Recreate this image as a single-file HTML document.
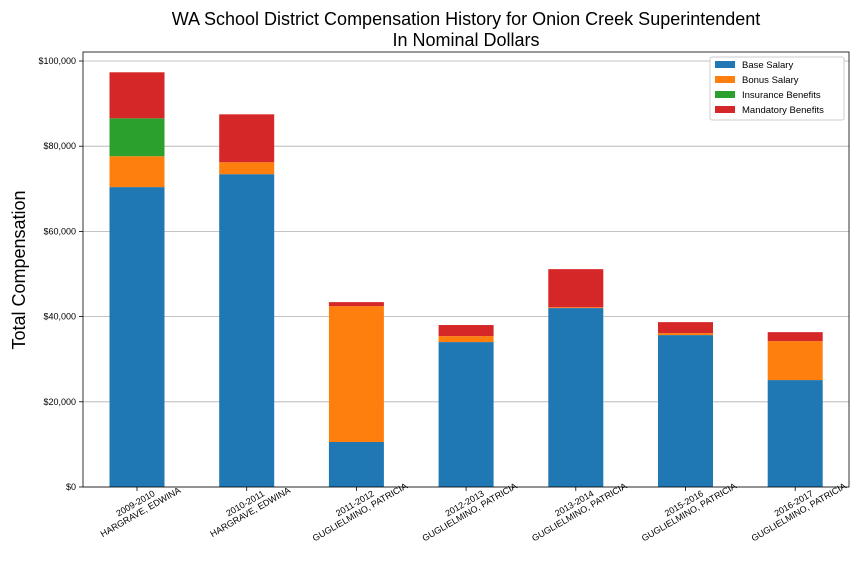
<!DOCTYPE html>
<html><head><meta charset="utf-8"><style>
body{margin:0;background:#fff;font-family:"Liberation Sans",sans-serif}
</style></head><body>
<svg id="chart" width="864" height="576" xmlns="http://www.w3.org/2000/svg"></svg>
<script>
const categories=[["2009-2010","HARGRAVE, EDWINA"],["2010-2011","HARGRAVE, EDWINA"],["2011-2012","GUGLIELMINO, PATRICIA"],["2012-2013","GUGLIELMINO, PATRICIA"],["2013-2014","GUGLIELMINO, PATRICIA"],["2015-2016","GUGLIELMINO, PATRICIA"],["2016-2017","GUGLIELMINO, PATRICIA"]];
const baseSalary=[70400,73430,10560,34020,42000,35660,25100];
const bonusSalary=[7250,2800,31900,1400,200,470,9150];
const insuranceBenefits=[8900,0,0,0,0,0,0];
const mandatoryBenefits=[10800,11250,940,2600,8940,2570,2100];
const yTicks=[0,20000,40000,60000,80000,100000];
const yTickLabels=["$0","$20,000","$40,000","$60,000","$80,000","$100,000"];
const seriesNames=["Base Salary","Bonus Salary","Insurance Benefits","Mandatory Benefits"];
const colors=["#1f77b4","#ff7f0e","#2ca02c","#d62728"];

const NS="http://www.w3.org/2000/svg";
const svg=document.getElementById('chart');
const L=83,R=849,T=52,B=487;
const y=v=>B-v*(B-61)/100000;
const x=i=>137+i*109.7;
const bw=55;
function el(tag,attrs,parent){const e=document.createElementNS(NS,tag);for(const k in attrs)e.setAttribute(k,attrs[k]);(parent||svg).appendChild(e);return e;}

yTicks.forEach((t,i)=>{
  const g=el('line',{x1:L,x2:R,y1:y(t),y2:y(t),stroke:'#b0b0b0','stroke-width':0.8});
  
  
  el('line',{x1:L-4,x2:L,y1:y(t),y2:y(t),stroke:'#000','stroke-width':0.8});
  const tx=el('text',{x:L-7,y:y(t)+3,'font-size':9,'text-anchor':'end'});
  tx.textContent=yTickLabels[i];
  
  
});

const series=[baseSalary,bonusSalary,insuranceBenefits,mandatoryBenefits];
categories.forEach((c,i)=>{
  let acc=0;
  series.forEach((s,k)=>{
    const v=s[i];
    if(v>0){
      const r=el('rect',{x:x(i)-bw/2,y:y(acc+v),width:bw,height:y(acc)-y(acc+v),fill:colors[k]});
      
      
    }
    acc+=v;
  });
  el('line',{x1:x(i),x2:x(i),y1:B,y2:B+4,stroke:'#000','stroke-width':0.8});
  const t=el('text',{transform:`translate(${x(i)},${B+19}) rotate(-30)`,'font-size':9,'text-anchor':'middle'});
  
  
  const a=el('tspan',{x:0,dy:0},t);a.textContent=c[0];
  const b=el('tspan',{x:0,dy:10},t);b.textContent=c[1];
});

const frame=el('rect',{x:L,y:T,width:R-L,height:B-T,fill:'none',stroke:'#000','stroke-width':0.8});



const t1=el('text',{x:466,y:25,'font-size':18,'text-anchor':'middle'});t1.textContent="WA School District Compensation History for Onion Creek Superintendent";


const t2=el('text',{x:466,y:46,'font-size':18,'text-anchor':'middle'});t2.textContent="In Nominal Dollars";


const yl=el('text',{transform:'translate(25,270) rotate(-90)','font-size':18,'text-anchor':'middle'});yl.textContent="Total Compensation";



const lg=el('g',{});


el('rect',{x:710,y:57,width:134,height:63,fill:'#fff',stroke:'#ccc',rx:2},lg);
seriesNames.forEach((n,k)=>{
  el('rect',{x:715,y:61+k*15,width:20,height:7,fill:colors[k]},lg);
  const t=el('text',{x:742,y:68+k*15,'font-size':9.5},lg);t.textContent=n;
  
  
});
</script>
</body></html>
